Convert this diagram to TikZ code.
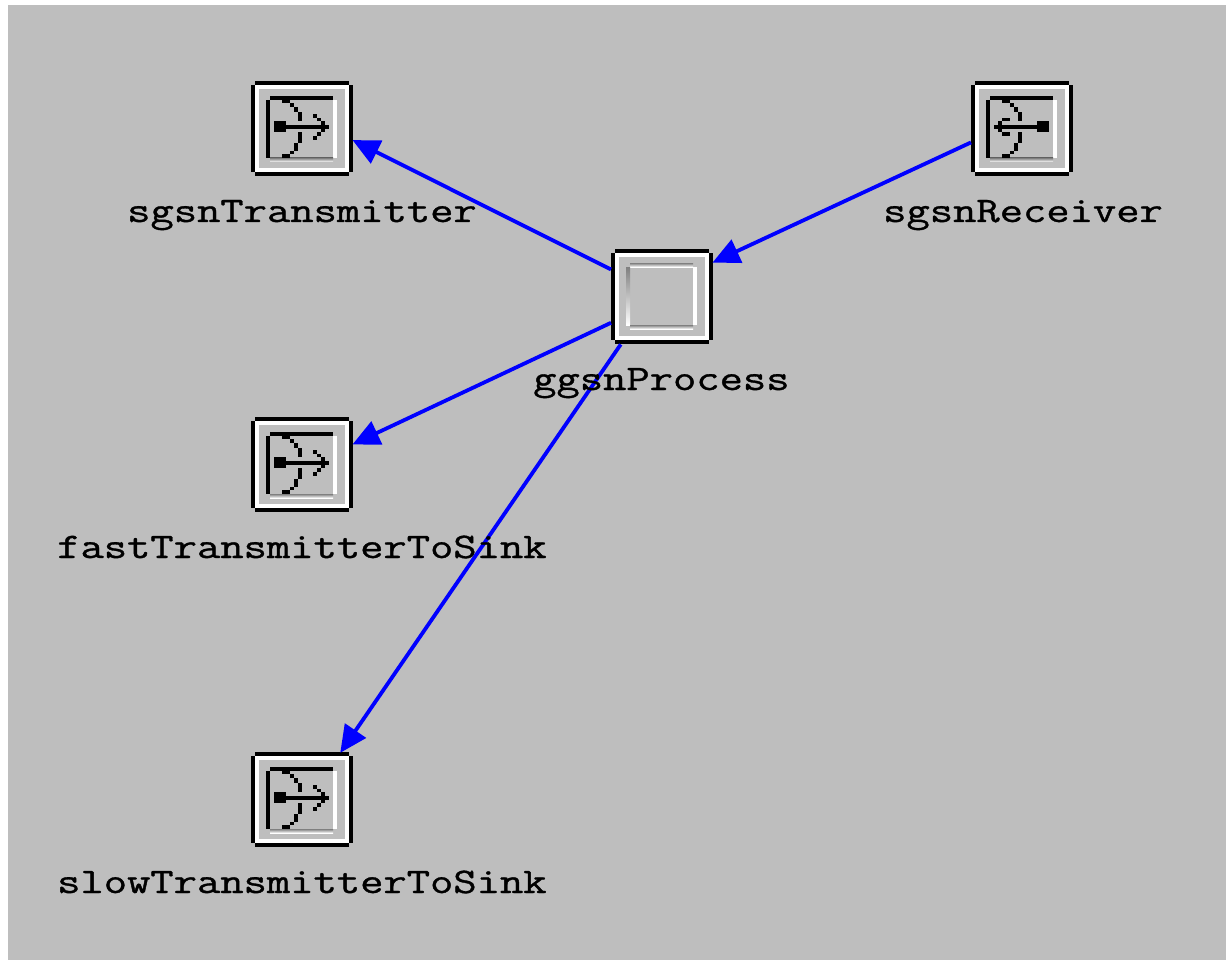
\documentclass[tikz,border=0pt]{standalone}
\usepackage{fontspec}
\usepackage{graphicx}
\usetikzlibrary{arrows.meta}
\newfontfamily\lab[FakeBold=0.9]{Latin Modern Mono}
\definecolor{panel}{HTML}{BEBEBE}
\definecolor{shade}{HTML}{808080}
\definecolor{link}{HTML}{0000FF}
\tikzset{
  iconbox/.style={rectangle,inner sep=0pt,minimum width=102pt,minimum height=95pt,fill=panel,anchor=north west},
  wire/.style={draw=link,line width=3.8pt,-{Triangle[length=27pt,width=25pt]},shorten >=-1pt},
  lbl/.style={anchor=base west,inner sep=0pt,font=\lab\fontsize{36pt}{36pt}\selectfont}
}
% filled rectangle, relative coordinates
\newcommand{\bx}[5]{\fill[#1] (#2,#3) rectangle (#4,#5);}
\newcommand{\framebits}{%
  \bx{black}{4}{0}{98}{4}\bx{black}{0}{4}{4}{91}\bx{black}{98}{4}{102}{91}\bx{black}{4}{91}{98}{95}%
  \bx{white}{4}{4}{98}{8}\bx{white}{4}{8}{8}{87}\bx{white}{94}{8}{98}{87}\bx{white}{4}{87}{98}{91}}
\newcommand{\dishbits}{%
  \bx{white}{82}{19}{86}{77}\bx{shade}{19}{77}{82}{81}%
  \bx{black}{19}{15}{82}{19}\bx{black}{15}{19}{19}{77}%
  \bx{black}{31}{19}{39}{22}\bx{black}{39}{22}{43}{26}\bx{black}{43}{26}{47}{31}\bx{black}{47}{31}{51}{40}%
  \bx{black}{47}{51}{51}{62}\bx{black}{43}{62}{47}{70}\bx{black}{39}{70}{43}{73}\bx{black}{31}{73}{39}{77}}
\newcommand{\sendbits}{%
  \bx{black}{23}{40}{35}{51}\bx{black}{35}{44}{74}{48}\bx{black}{74}{44}{78}{48}%
  \bx{black}{62}{33}{66}{37}\bx{black}{66}{37}{70}{40}\bx{black}{70}{40}{74}{44}%
  \bx{black}{70}{48}{74}{51}\bx{black}{66}{51}{70}{55}\bx{black}{62}{55}{66}{59}}
\newcommand{\recvbits}{%
  \bx{black}{66}{40}{78}{51}\bx{black}{27}{44}{66}{48}\bx{black}{23}{44}{27}{48}%
  \bx{black}{27}{40}{31}{44}\bx{black}{31}{37}{39}{40}%
  \bx{black}{27}{48}{31}{51}\bx{black}{31}{51}{39}{55}}
\newcommand{\procbits}{%
  \bx{white}{82}{18}{86}{76}\bx{shade}{19}{14}{82}{18}\bx{shade}{15}{18}{19}{76}%
  \bx{shade}{19}{76}{82}{80}}
\begin{document}
\begin{tikzpicture}[x=1pt,y=-1pt]
\useasboundingbox (0,0) rectangle (1226,960);
\fill[panel] (8,5) rectangle (1226,960);
% icon boxes
\node[iconbox] (sgsnTx) at (251,81) {};
\node[iconbox] (sgsnRx) at (971,81) {};
\node[iconbox] (ggsn) at (611,249) {};
\node[iconbox] (fastTx) at (251,417) {};
\node[iconbox] (slowTx) at (251,752) {};
\begin{scope}[shift={(251,81)}]\framebits\dishbits\sendbits\end{scope}
\begin{scope}[shift={(971,81)}]\framebits\dishbits\recvbits\end{scope}
\begin{scope}[shift={(251,417)}]\framebits\dishbits\sendbits\end{scope}
\begin{scope}[shift={(251,752)}]\framebits\dishbits\sendbits\end{scope}
\begin{scope}[shift={(611,249)}]\framebits\procbits\end{scope}
% connectors
\draw[wire] (ggsn.152) -- (sgsnTx.-13);
\draw[wire] (sgsnRx.195) -- (ggsn.34);
\draw[wire] (ggsn.207) -- (fastTx.22);
\draw[wire] (ggsn.229) -- (slowTx.51);
% labels
\node[lbl] (tTx) at (127,222) {\scalebox{1.257}[1]{sgsnTransmitter}};
\node[lbl] (tRx) at (883,222) {\scalebox{1.257}[1]{sgsnReceiver}};
\node[lbl] (tG) at (533,390) {\scalebox{1.257}[1]{ggsnProcess}};
\node[lbl] (tF) at (57,558) {\scalebox{1.257}[1]{fastTransmitterToSink}};
\node[lbl] (tS) at (57,893) {\scalebox{1.257}[1]{slowTransmitterToSink}};
\end{tikzpicture}
\end{document}
